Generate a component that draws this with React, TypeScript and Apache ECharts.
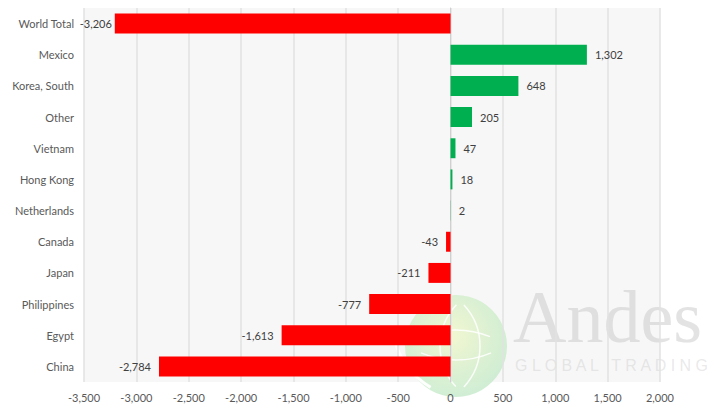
import React, { useEffect, useRef } from "react";
import * as echarts from "echarts";

const categories = [
  "World Total",
  "Mexico",
  "Korea, South",
  "Other",
  "Vietnam",
  "Hong Kong",
  "Netherlands",
  "Canada",
  "Japan",
  "Philippines",
  "Egypt",
  "China",
];
const values = [-3206, 1302, 648, 205, 47, 18, 2, -43, -211, -777, -1613, -2784];
const xTicks = { min: -3500, max: 2000, interval: 500 };

const POS = "#00B050";
const NEG = "#FF0000";
const FONT = "Lato, 'Open Sans', sans-serif";
const fmt = (v: number) => v.toLocaleString("en-US");

export default function App() {
  const ref = useRef<HTMLDivElement>(null);
  useEffect(() => {
    if (!ref.current) return;
    const chart = echarts.init(ref.current, undefined, { renderer: "svg" });
    const data = values.map((v, i) => ({
      value: v,
      itemStyle: { color: v >= 0 ? POS : NEG },
      label: { position: v >= 0 ? "right" : "left", distance: i === 0 ? 3 : 8 },
    }));
    const white = { stroke: "rgba(255,255,255,0.85)", lineWidth: 1.5, fill: "none" };
    chart.setOption({
      animation: false,
      backgroundColor: "#ffffff",
      grid: {
        left: 84,
        right: 57,
        top: 8,
        bottom: 26,
        show: true,
        backgroundColor: "#f7f7f7",
        borderWidth: 0,
      },
      xAxis: {
        type: "value",
        min: xTicks.min,
        max: xTicks.max,
        interval: xTicks.interval,
        axisLine: { show: false },
        axisTick: { show: false },
        splitLine: { show: true, lineStyle: { color: "#e2e2e2", width: 1.5 } },
        axisLabel: {
          color: "#595959",
          fontFamily: FONT,
          fontSize: 11,
          margin: 10,
          formatter: (v: number) => fmt(v),
        },
      },
      yAxis: {
        type: "category",
        data: categories,
        inverse: true,
        axisTick: { show: false },
        axisLine: { show: true, onZero: true, lineStyle: { color: "#d0d0d0", width: 1 } },
        axisLabel: {
          color: "#595959",
          fontFamily: FONT,
          fontSize: 11,
          margin: 10,
        },
      },
      graphic: [
        {
          type: "group",
          z: 1,
          silent: true,
          children: [
            {
              type: "circle",
              shape: { cx: 456, cy: 346, r: 51 },
              style: {
                fill: new echarts.graphic.RadialGradient(0.45, 0.4, 0.6, [
                  { offset: 0, color: "rgba(242,247,205,0.9)" },
                  { offset: 1, color: "rgba(200,235,205,0.85)" },
                ]),
              },
            },
            { type: "arc", shape: { cx: 500, cy: 346, r: 60, startAngle: 2.4, endAngle: 3.9 }, style: white },
            { type: "arc", shape: { cx: 420, cy: 346, r: 60, startAngle: -0.75, endAngle: 0.75 }, style: white },
            { type: "arc", shape: { cx: 456, cy: 420, r: 90, startAngle: 4.3, endAngle: 5.1 }, style: white },
            { type: "arc", shape: { cx: 456, cy: 270, r: 90, startAngle: 1.17, endAngle: 1.97 }, style: white },
            {
              type: "arc",
              shape: { cx: 470, cy: 320, r: 78, startAngle: 2.1, endAngle: 2.9 },
              style: { stroke: "rgba(255,255,255,0.95)", lineWidth: 3, fill: "none" },
            },
            {
              type: "text",
              x: 513,
              y: 354,
              style: {
                text: "Andes",
                font: "74px 'Liberation Serif', 'DejaVu Serif', serif",
                fill: "rgba(200,200,200,0.5)",
                verticalAlign: "bottom",
              },
            },
            {
              type: "text",
              x: 515,
              y: 357,
              style: {
                text: "G L O B A L   T R A D I N G",
                font: "16px 'Liberation Sans', sans-serif",
                fill: "rgba(200,200,200,0.4)",
                verticalAlign: "top",
              },
            },
          ],
        },
      ],
      series: [
        {
          type: "bar",
          z: 2,
          barWidth: "64%",
          data,
          label: {
            show: true,
            color: "#404040",
            fontFamily: FONT,
            fontSize: 11,
            formatter: (p: any) => fmt(p.value),
          },
        },
      ],
    });
    return () => chart.dispose();
  }, []);
  return (
    <div
      ref={ref}
      style={{ position: "absolute", left: 0, top: 0, width: 717, height: 408 }}
    />
  );
}
